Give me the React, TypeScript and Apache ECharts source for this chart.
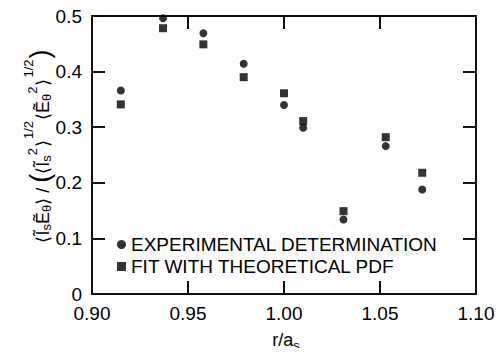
import React, { useEffect, useRef } from "react";
import * as echarts from "echarts";

const rValues = [0.915, 0.937, 0.958, 0.979, 1.0, 1.01, 1.031, 1.053, 1.072];
const experimental = [0.366, 0.496, 0.469, 0.414, 0.34, 0.299, 0.134, 0.266, 0.188];
const theoretical = [0.341, 0.478, 0.449, 0.39, 0.361, 0.311, 0.149, 0.282, 0.218];
const seriesNames = ["EXPERIMENTAL DETERMINATION", "FIT WITH THEORETICAL PDF"];
const xInnerTicks = [0.95, 1.0, 1.05];
const yInnerTicks = [0.1, 0.2, 0.3, 0.4];

const X_MIN = 0.9;
const X_MAX = 1.1;
const Y_MIN = 0;
const Y_MAX = 0.5;

const W = 503;
const H = 356;
const GRID = { left: 92, right: 27, top: 16, bottom: 62 };
const TICK_LEN = 13;
const INK = "#111111";

const FONT = "'Liberation Sans', Arial, Helvetica, sans-serif";

export default function App() {
  const ref = useRef<HTMLDivElement>(null);
  useEffect(() => {
    if (!ref.current) return;
    const chart = echarts.init(ref.current, null, { renderer: "svg" });
    const mkLine = () => ({ show: true, onZero: false, lineStyle: { color: INK, width: 2 } });
    const mkTick = () => ({ show: true, inside: true, length: TICK_LEN, lineStyle: { color: INK, width: 1.8 } });
    const plotW = W - GRID.left - GRID.right;
    const plotH = H - GRID.top - GRID.bottom;
    const dx = (TICK_LEN * (X_MAX - X_MIN)) / plotW;
    const dy = (TICK_LEN * (Y_MAX - Y_MIN)) / plotH;
    const tickLines: any[] = [];
    xInnerTicks.forEach((v) => {
      tickLines.push([{ coord: [v, Y_MIN] }, { coord: [v, Y_MIN + dy] }]);
      tickLines.push([{ coord: [v, Y_MAX] }, { coord: [v, Y_MAX - dy] }]);
    });
    yInnerTicks.forEach((v) => {
      tickLines.push([{ coord: [X_MIN, v] }, { coord: [X_MIN + dx, v] }]);
      tickLines.push([{ coord: [X_MAX, v] }, { coord: [X_MAX - dx, v] }]);
    });
    chart.setOption({
      animation: false,
      backgroundColor: "#fff",
      grid: { ...GRID },
      xAxis: [
        {
          type: "value",
          min: X_MIN,
          max: X_MAX,
          interval: 0.05,
          axisLine: mkLine(),
          axisTick: mkTick(),
          splitLine: { show: false },
          axisLabel: {
            color: "#000",
            fontFamily: FONT,
            fontSize: 19,
            margin: 10,
            formatter: (v: number) => v.toFixed(2),
          },
        },
        {
          type: "value",
          position: "top",
          min: X_MIN,
          max: X_MAX,
          interval: 0.05,
          axisLine: mkLine(),
          axisTick: mkTick(),
          splitLine: { show: false },
          axisLabel: { show: false },
        },
      ],
      yAxis: [
        {
          type: "value",
          min: Y_MIN,
          max: Y_MAX,
          interval: 0.1,
          axisLine: mkLine(),
          axisTick: mkTick(),
          splitLine: { show: false },
          axisLabel: {
            color: "#000",
            fontFamily: FONT,
            fontSize: 19,
            margin: 10,
            formatter: (v: number) => (v === 0 ? "0" : v.toFixed(1)),
          },
        },
        {
          type: "value",
          position: "right",
          min: Y_MIN,
          max: Y_MAX,
          interval: 0.1,
          axisLine: mkLine(),
          axisTick: mkTick(),
          splitLine: { show: false },
          axisLabel: { show: false },
        },
      ],
      legend: {
        orient: "vertical",
        left: 117,
        top: 235,
        padding: 0,
        itemWidth: 9,
        itemHeight: 9,
        itemGap: 3,
        textStyle: { color: "#000", fontFamily: FONT, fontSize: 19 },
        data: [
          { name: seriesNames[0], icon: "circle" },
          { name: seriesNames[1], icon: "rect" },
        ],
      },
      series: [
        {
          name: seriesNames[0],
          type: "scatter",
          symbol: "circle",
          symbolSize: 8,
          z: 3,
          itemStyle: { color: "#000" },
          data: rValues.map((r, i) => [r, experimental[i]]),
        },
        {
          name: seriesNames[1],
          type: "scatter",
          symbol: "rect",
          symbolSize: 8,
          z: 2,
          itemStyle: { color: "#000" },
          data: rValues.map((r, i) => [r, theoretical[i]]),
          markLine: {
            silent: true,
            animation: false,
            symbol: ["none", "none"],
            label: { show: false },
            lineStyle: { color: INK, width: 1.8, type: "solid" },
            data: tickLines,
          },
        },
      ],
      graphic: [
        {
          type: "text",
          x: 43,
          y: 146,
          rotation: Math.PI / 2,
          style: {
            text:
              "{m|⟨Ĩ}{sub|s}{m|Ẽ}{sub|θ}{m|⟩ / }{p|(}{m|⟨Ĩ}{sub|s}{sup2|2}{m|⟩}{sup|1/2}{m|⟨Ẽ}{sub|θ}{sup2|2}{m|⟩}{sup|1/2}{p|)}",
            align: "center",
            verticalAlign: "middle",
            fill: "#000",
            rich: {
              m: { fontFamily: FONT, fontSize: 18, lineHeight: 22, fill: "#000" },
              sub: { fontFamily: FONT, fontSize: 13, lineHeight: 22, padding: [7, 0, 0, 0], fill: "#000" },
              sup2: { fontFamily: FONT, fontSize: 13, lineHeight: 22, padding: [0, 1, 22, 0], fill: "#000" },
              sup: { fontFamily: FONT, fontSize: 13, lineHeight: 22, padding: [0, 1, 30, 1], fill: "#000" },
              p: { fontFamily: FONT, fontSize: 27, lineHeight: 22, padding: [0, 0, 6, 0], fill: "#000" },
            },
          },
        },
        {
          type: "text",
          x: 286,
          y: 340,
          style: {
            text: "{m|r/a}{sub|s}",
            align: "center",
            verticalAlign: "middle",
            fill: "#000",
            rich: {
              m: { fontFamily: FONT, fontSize: 18, lineHeight: 20, fill: "#000" },
              sub: { fontFamily: FONT, fontSize: 13, lineHeight: 20, padding: [10, 0, 0, 0], fill: "#000" },
            },
          },
        },
      ],
    });
    return () => chart.dispose();
  }, []);
  return <div ref={ref} style={{ width: W, height: H, margin: -8 }} />;
}
